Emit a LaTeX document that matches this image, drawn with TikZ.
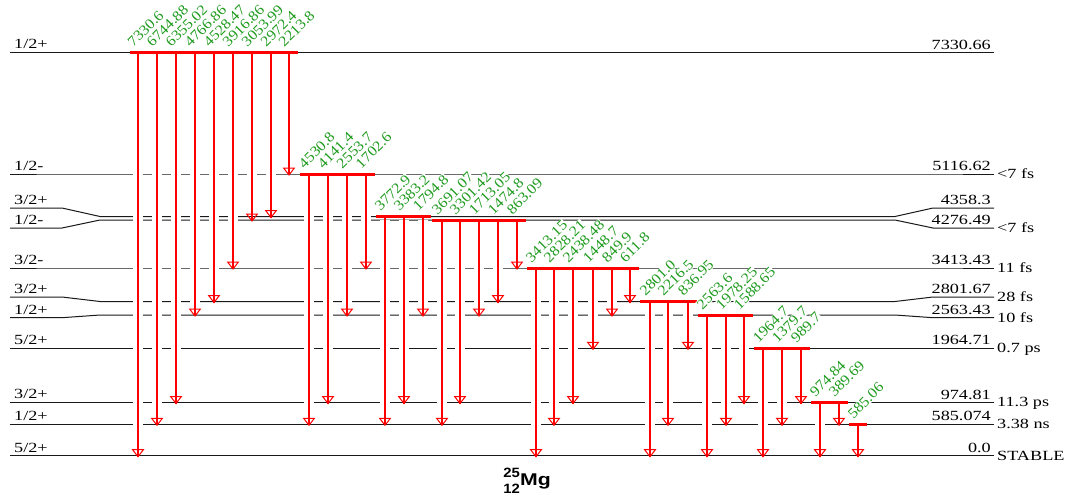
\documentclass[tikz,border=0pt]{standalone}
\usepackage{fontspec}
\setmainfont{Liberation Serif}
\newfontfamily\titlefont{Liberation Sans}
\usepackage{graphicx}
\definecolor{gtxt}{RGB}{30,155,30}
\definecolor{lvlcol}{RGB}{25,25,25}
\newcommand\wx[1]{\scalebox{1.3}[1]{#1}}
\newcommand\mklevel[7]{%
  \draw[lvl] (10,#3) -- (62,#3) -- (100,#2) -- (895,#2) -- (933,#4) -- (994,#4);
  \node[blk, anchor=base west] (#1s) at (14,#3-3.7) {\wx{#5}};
  \node[blk, anchor=base east] (#1e) at (991,#4-3.5) {\wx{#6}};
  \node[blk, anchor=base west] (#1h) at (997,#4+4.3) {\wx{#7}};
}
\def\gammalist{138/52.5/455.7/7330.6, 157/52.5/424.3/6744.88, 176/52.5/402.5/6355.02, 195/52.5/315/4766.86, 214/52.5/301.5/4528.47, 233/52.5/268/3916.86, 252/52.5/220/3053.99, 271/52.5/216.5/2972.4, 289/52.5/174/2213.8,
309/174/424.3/4530.8, 328/174/402.5/4141.4, 347/174/315/2553.7, 366/174/268/1702.6,
385/216.5/424.3/3772.9, 404/216.5/402.5/3383.2, 423/216.5/315/1794.8,
442/220/424.3/3691.07, 460/220/402.5/3301.42, 479/220/315/1713.05, 498/220/301.5/1474.8, 517/220/268/863.09,
536/268/455.7/3413.15, 554/268/424.3/2828.21, 573/268/402.5/2438.48, 593/268/348.3/1448.7, 612/268/315/849.9, 630/268/301.5/611.8,
650/301.5/455.7/2801.0, 668/301.5/424.3/2216.5, 688/301.5/348.3/836.95,
707/315/455.7/2563.6, 726/315/424.3/1978.25, 744/315/402.5/1588.65,
763/348.3/455.7/1964.7, 782/348.3/424.3/1379.7, 801/348.3/402.5/989.7,
820/402.5/455.7/974.84, 839/402.5/424.3/389.69,
858/424.3/455.7/585.06}
\begin{document}
\begin{tikzpicture}[x=1pt,y=-1pt,
  lvl/.style={draw=lvlcol, line width=1pt},
  barline/.style={draw=red, line width=3pt},
  gam/.style={draw=red, line width=1.2pt},
  headline/.style={draw=red, line width=1pt, line join=miter},
  halo/.style={draw=white, line width=10pt},
  blk/.style={inner sep=0pt, font=\fontsize{14}{14}\selectfont},
  glab/.style={inner sep=0.5pt, fill=white, text=gtxt, font=\fontsize{14.5}{15}\selectfont}]
\useasboundingbox (0,0) rectangle (1068,496);
\fill[white] (0,0) rectangle (1068,496);
% levels
\mklevel{La}{52.5}{52.5}{52.5}{1/2+}{7330.66}{}
\mklevel{Lb}{174}{174}{174}{1/2-}{5116.62}{<7 fs}
\mklevel{Lc}{216.5}{208}{208}{3/2+}{4358.3}{}
\mklevel{Ld}{220}{228}{228}{1/2-}{4276.49}{<7 fs}
\mklevel{Le}{268}{268}{268}{3/2-}{3413.43}{11 fs}
\mklevel{Lf}{301.5}{297}{297}{3/2+}{2801.67}{28 fs}
\mklevel{Lg}{315}{317.7}{317.7}{1/2+}{2563.43}{10 fs}
\mklevel{Lh}{348.3}{348.3}{348.3}{5/2+}{1964.71}{0.7 ps}
\mklevel{Li}{402.5}{402.5}{402.5}{3/2+}{974.81}{11.3 ps}
\mklevel{Lj}{424.3}{424.3}{424.3}{1/2+}{585.074}{3.38 ns}
\mklevel{Lk}{455.7}{455.7}{455.7}{5/2+}{0.0}{STABLE}
% gaps where transitions cross levels
\foreach \x/\ys/\yd/\t in \gammalist {
  \draw[halo] (\x,\ys+3) -- (\x,\yd-8);
}
% transitions
\foreach \x/\ys/\yd/\t in \gammalist {
  \draw[gam] (\x,\ys) -- (\x,\yd+1);
  \draw[headline] (\x-5.4,\yd-6) -- (\x+5.4,\yd-6) -- (\x,\yd+1) -- cycle;
}
% level bars
\foreach \xa/\xb/\y in {130/298/52.5, 300/375/174, 376/431/216.5, 432/526/220, 527/639/268, 640/697/301.5, 698/753/315, 754/810/348.3, 811/848/402.5, 849/867/424.3} {
  \draw[barline] (\xa,\y) -- (\xb,\y);
}
% gamma labels
\foreach \x/\ys/\yd/\t in \gammalist {
  \begin{scope}[shift={(\x-5,\ys-4.5)}, rotate=45]
    \node[glab, transform shape, anchor=base west] at (0,0) {\scalebox{1.1}[1]{\t}};
  \end{scope}
}
% nucleus
\node[inner sep=0pt, anchor=base west] (mg) at (520,485.5) {\titlefont\bfseries\fontsize{17}{17}\selectfont\scalebox{1.25}[1]{Mg}};
\node[inner sep=0pt, anchor=base east] (mass) at (mg.base west) [yshift=8.5pt] {\titlefont\bfseries\fontsize{13.5}{13}\selectfont\scalebox{1.1}[1]{25}};
\node[inner sep=0pt, anchor=base east] (charge) at (mg.base west) [yshift=-7.7pt] {\titlefont\bfseries\fontsize{13.5}{13}\selectfont\scalebox{1.1}[1]{12}};
\end{tikzpicture}
\end{document}
